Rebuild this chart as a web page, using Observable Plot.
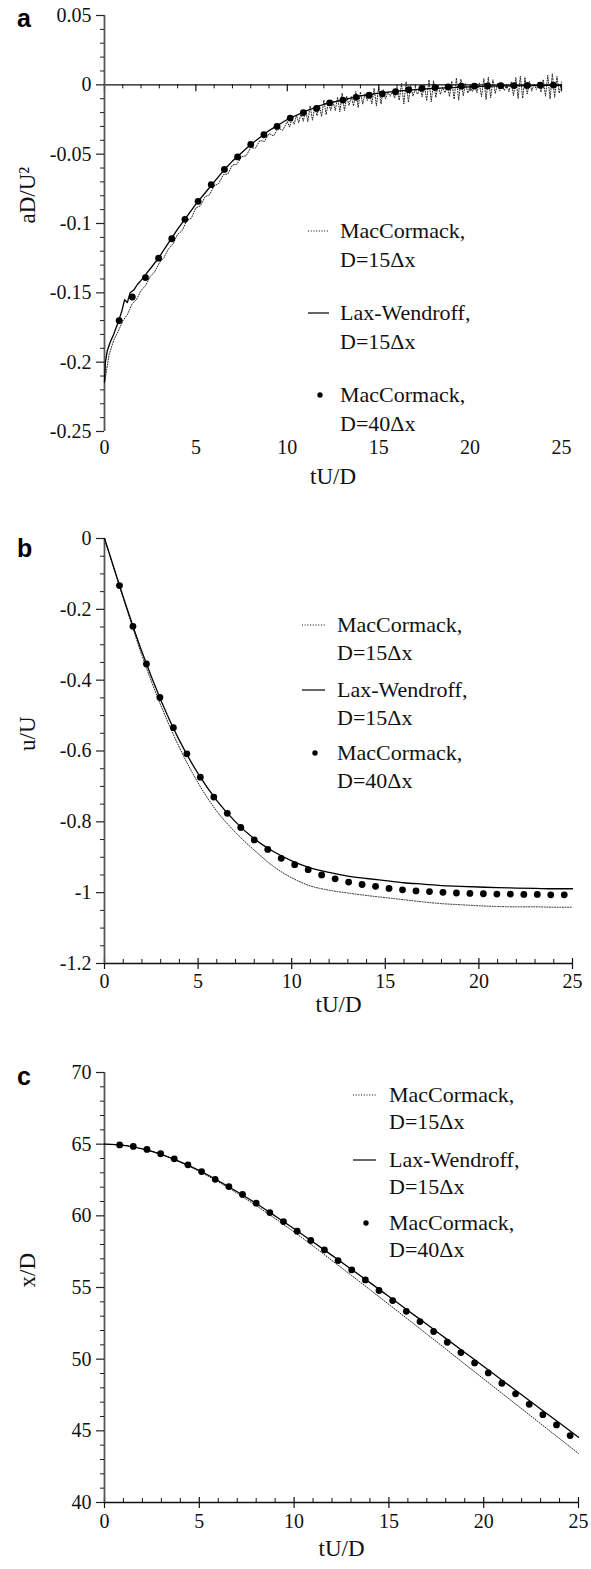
<!DOCTYPE html>
<html><head><meta charset="utf-8">
<script src="https://cdn.jsdelivr.net/npm/d3@7"></script>
<script src="https://cdn.jsdelivr.net/npm/@observablehq/plot@0.6"></script>
<style>
html,body{margin:0;padding:0;background:#fff;}
#root{position:relative;width:591px;height:1569px;overflow:hidden;background:#fff;}
.panel{position:absolute;left:0;}
#overlay{position:absolute;left:0;top:0;pointer-events:none;}
</style></head><body><div id="root"></div>
<script>
// ---------------- data ----------------
const xMajor = [0, 5, 10, 15, 20, 25];
const xLabels = ["0", "5", "10", "15", "20", "25"];

const yMajorA = [0.05, 0, -0.05, -0.1, -0.15, -0.2, -0.25];
const yLabelsA = ["0.05", "0", "-0.05", "-0.1", "-0.15", "-0.2", "-0.25"];
const yMajorB = [0, -0.2, -0.4, -0.6, -0.8, -1, -1.2];
const yLabelsB = ["0", "-0.2", "-0.4", "-0.6", "-0.8", "-1", "-1.2"];
const yMajorC = [70, 65, 60, 55, 50, 45, 40];
const yLabelsC = ["70", "65", "60", "55", "50", "45", "40"];

const legendText = [["MacCormack,", "D=15\u0394x"], ["Lax-Wendroff,", "D=15\u0394x"], ["MacCormack,", "D=40\u0394x"]];
const legendKinds = ["dotted", "solid", "dot"];

// MacCormack D=40dx sample times (common to all panels)
const tDots = [0.8, 1.52, 2.24, 2.96, 3.68, 4.4, 5.12, 5.84, 6.56, 7.28, 8.0, 8.72, 9.44, 10.16, 10.88, 11.6, 12.32,
  13.04, 13.76, 14.48, 15.2, 15.92, 16.64, 17.36, 18.08, 18.8, 19.52, 20.24, 20.96, 21.68, 22.4, 23.12, 23.84, 24.56];

// panel a : aD/U^2
const aDots = [-0.170, -0.153, -0.139, -0.125, -0.111, -0.097, -0.084, -0.072, -0.061, -0.052, -0.043, -0.036, -0.030,
  -0.024, -0.020, -0.017, -0.013, -0.011, -0.009, -0.0075, -0.0065, -0.005, -0.0035, -0.0025, -0.002, -0.0015, -0.001,
  -0.001, -0.0008, -0.0006, -0.0005, -0.0004, -0.0003, -0.0002];
const tA_LW = [0, 0.05, 0.15, 0.3, 0.5, 0.78, 0.95, 1.1, 1.25, 1.4, 1.6, 1.8, 2.0, 2.3, 2.6, 3.0, 3.5, 4.0, 4.5, 5.0,
  5.5, 6.0, 6.5, 7.0, 7.5, 8.0, 8.5, 9.0, 9.5, 10, 11, 12, 13, 14, 15, 16, 17, 18, 19, 20, 21, 22, 23, 24, 25];
const aLW = [-0.214, -0.200, -0.192, -0.186, -0.180, -0.170, -0.163, -0.155, -0.157, -0.150, -0.148, -0.144, -0.141,
  -0.136, -0.131, -0.124, -0.114, -0.104, -0.095, -0.086, -0.078, -0.070, -0.062, -0.055, -0.049, -0.043, -0.038,
  -0.033, -0.029, -0.025, -0.019, -0.014, -0.011, -0.008, -0.006, -0.0045, -0.0035, -0.0025, -0.002, -0.0015, -0.001,
  -0.0008, -0.0006, -0.0004, -0.0003];
const tA_MC = [0, 0.25, 0.5, 0.75, 1, 1.25, 1.5, 1.75, 2, 2.25, 2.5, 2.75, 3, 3.25, 3.5, 3.75, 4, 4.25, 4.5, 4.75,
  5, 5.25, 5.5, 5.75, 6, 6.25, 6.5, 6.75, 7, 7.25, 7.5, 7.75, 8, 8.25, 8.5, 8.75, 9, 9.25, 9.5, 9.75,
  10, 10.125, 10.25, 10.375, 10.5, 10.625, 10.75, 10.875, 11, 11.125, 11.25, 11.375, 11.5, 11.625, 11.75, 11.875,
  12, 12.125, 12.25, 12.375, 12.5, 12.625, 12.75, 12.875, 13, 13.125, 13.25, 13.375, 13.5, 13.625, 13.75, 13.875,
  14, 14.125, 14.25, 14.375, 14.5, 14.625, 14.75, 14.875, 15, 15.125, 15.25, 15.375, 15.5, 15.625, 15.75, 15.875,
  16, 16.125, 16.25, 16.375, 16.5, 16.625, 16.75, 16.875, 17, 17.125, 17.25, 17.375, 17.5, 17.625, 17.75, 17.875,
  18, 18.125, 18.25, 18.375, 18.5, 18.625, 18.75, 18.875, 19, 19.125, 19.25, 19.375, 19.5, 19.625, 19.75, 19.875,
  20, 20.125, 20.25, 20.375, 20.5, 20.625, 20.75, 20.875, 21, 21.125, 21.25, 21.375, 21.5, 21.625, 21.75, 21.875,
  22, 22.125, 22.25, 22.375, 22.5, 22.625, 22.75, 22.875, 23, 23.125, 23.25, 23.375, 23.5, 23.625, 23.75, 23.875,
  24, 24.125, 24.25, 24.375, 24.5, 24.625, 24.75, 24.875, 25];
const aMC = [-0.215, -0.1947, -0.1843, -0.1777, -0.1703, -0.1657, -0.1583, -0.1547, -0.1483, -0.1447,
  -0.1383, -0.1347, -0.1283, -0.1247, -0.1183, -0.1147, -0.1078, -0.1052, -0.0978, -0.0962,
  -0.0888, -0.0872, -0.0808, -0.0792, -0.0728, -0.0712, -0.0648, -0.0642, -0.0578, -0.0572,
  -0.0518, -0.0512, -0.0452, -0.0458, -0.0402, -0.0408, -0.0352, -0.0368, -0.0312, -0.0328,
  -0.0265, -0.0305, -0.0245, -0.0285, -0.0220, -0.0273, -0.0206, -0.0263,
  -0.0180, -0.0265, -0.0150, -0.0255, -0.0160, -0.0223, -0.0146, -0.0228,
  -0.0110, -0.0215, -0.0120, -0.0185, -0.0120, -0.0185, -0.0090, -0.0195,
  -0.0060, -0.0186, -0.0082, -0.0148, -0.0085, -0.0152, -0.0048, -0.0164,
  -0.0050, -0.0138, -0.0065, -0.0113, -0.0060, -0.0138, -0.0025, -0.0153,
  -0.0010, -0.0138, -0.0035, -0.0103, -0.0050, -0.0083, -0.0047, -0.0095,
  -0.0023, -0.0112, 0.0010, -0.0138, 0.0023, -0.0125, -0.0004, -0.0082,
  -0.0030, -0.0069, -0.0018, -0.0087, 0.0004, -0.0115, 0.0036, -0.0123,
  0.0028, -0.0091, 0.0000, -0.0069, -0.0018, -0.0057, -0.0006, -0.0085,
  0.0026, -0.0103, 0.0048, -0.0111, 0.0040, -0.0080, 0.0011, -0.0059,
  -0.0008, -0.0048, -0.0007, -0.0057, 0.0014, -0.0086, 0.0045, -0.0105,
  0.0056, -0.0094, 0.0037, -0.0063, 0.0008, -0.0042, -0.0001, -0.0041,
  0.0000, -0.0050, 0.0021, -0.0079, 0.0052, -0.0098, 0.0063, -0.0097,
  0.0054, -0.0066, 0.0025, -0.0045, 0.0006, -0.0034, 0.0017, -0.0053,
  0.0038, -0.0082, 0.0069, -0.0101, 0.0080, -0.0090, 0.0060, -0.0060,
  0.0020];

// panel b : u/U
const tB = [0, 1, 2, 3, 4, 5, 6, 7, 8, 9, 10, 11, 12, 13, 14, 15, 16, 17, 18, 19, 20, 21, 22, 23, 24, 25];
const uLW = [0, -0.165, -0.32, -0.455, -0.57, -0.664, -0.74, -0.80, -0.848, -0.883, -0.91, -0.93, -0.943, -0.953,
  -0.96, -0.966, -0.972, -0.976, -0.98, -0.982, -0.984, -0.986, -0.987, -0.988, -0.989, -0.989];
const uMC = [0, -0.168, -0.33, -0.47, -0.59, -0.69, -0.77, -0.83, -0.88, -0.925, -0.958, -0.981, -0.993, -1.001,
  -1.008, -1.014, -1.020, -1.026, -1.031, -1.034, -1.037, -1.039, -1.040, -1.040, -1.041, -1.041];
const uDots = [-0.133, -0.248, -0.354, -0.449, -0.534, -0.608, -0.674, -0.730, -0.776, -0.816, -0.851, -0.878, -0.903,
  -0.921, -0.935, -0.950, -0.961, -0.970, -0.977, -0.982, -0.988, -0.992, -0.995, -0.997, -0.999, -1.001, -1.002,
  -1.003, -1.004, -1.004, -1.005, -1.005, -1.006, -1.006];

// panel c : x/D
const tC = [0, 1, 2, 3, 4, 5, 6, 7, 8, 9, 10, 11, 12, 13, 14, 15, 16, 17, 18, 19, 20, 21, 22, 23, 24, 25];
const xLW = [65, 64.92, 64.67, 64.29, 63.77, 63.16, 62.45, 61.68, 60.86, 59.99, 59.10, 58.18, 57.24, 56.29, 55.34,
  54.37, 53.40, 52.43, 51.45, 50.47, 49.49, 48.50, 47.52, 46.53, 45.54, 44.55];
const xMC = [65, 64.92, 64.67, 64.27, 63.74, 63.10, 62.37, 61.57, 60.71, 59.81, 58.87, 57.90, 56.88, 55.87, 54.85,
  53.82, 52.79, 51.75, 50.71, 49.66, 48.62, 47.58, 46.54, 45.50, 44.46, 43.42];
const xDots = [64.95, 64.84, 64.63, 64.33, 63.98, 63.56, 63.09, 62.55, 62.04, 61.49, 60.88, 60.23, 59.60, 58.93,
  58.28, 57.63, 56.88, 56.23, 55.53, 54.79, 54.09, 53.34, 52.62, 51.93, 51.18, 50.46, 49.74, 49.04, 48.32, 47.58,
  46.85, 46.13, 45.41, 44.67];

// ---------------- drawing ----------------
const W = 591, ML = 104;
const FONT = "'Liberation Serif', 'Times New Roman', serif";
const root = document.getElementById("root");

function minorTicks(lo, hi, step, majors) {
  const out = [];
  const n = Math.round((hi - lo) / step);
  for (let i = 0; i <= n; i++) {
    const v = +(lo + i * step).toFixed(6);
    if (!majors.some(m => Math.abs(m - v) < step / 10)) out.push(v);
  }
  return out;
}

function makePanel(cfg) {
  const {top, height, mt, mb, mr, yDomain, yMajor, yLabels, yStep, xAxisAt, ticksDown,
    tickDy, labelDy, yLabel, mc, lw, dots, curve} = cfg;
  const pxX = (W - ML - mr) / 25;
  const pxY = (height - mt - mb) / (yDomain[1] - yDomain[0]);
  const yMinor = minorTicks(yDomain[0], yDomain[1], yStep, yMajor);
  const xMinor = minorTicks(0, 25, 1, xMajor);
  const xt = ticksDown
    ? {minor: [xAxisAt, xAxisAt - 4 / pxY], major: [xAxisAt, xAxisAt - 7 / pxY]}
    : {minor: [xAxisAt, xAxisAt + 4 / pxY], major: [xAxisAt - 6 / pxY, xAxisAt + 5 / pxY]};
  const plot = Plot.plot({
    width: W, height,
    marginLeft: ML, marginRight: mr, marginTop: mt, marginBottom: mb,
    x: {domain: [0, 25], axis: null},
    y: {domain: yDomain, axis: null},
    style: {fontFamily: FONT, fontSize: "20px", color: "#111", background: "transparent", overflow: "visible"},
    marks: [
      // x axis line and ticks
      Plot.ruleY([xAxisAt], {stroke: "#111", strokeWidth: 1.3}),
      Plot.ruleX(xMinor, {x: d => d, y1: xt.minor[0], y2: xt.minor[1], stroke: "#111", strokeWidth: 1}),
      Plot.ruleX(xMajor, {x: d => d, y1: xt.major[0], y2: xt.major[1], stroke: "#111", strokeWidth: 1.2}),
      // y axis line and ticks
      Plot.ruleX([0], {stroke: "#555", strokeWidth: 1.8}),
      Plot.ruleY(yMinor, {y: d => d, x1: 0, x2: -4 / pxX, stroke: "#222", strokeWidth: 1}),
      Plot.ruleY(yMajor, {y: d => d, x1: 0, x2: -8 / pxX, stroke: "#222", strokeWidth: 1.2}),
      // tick labels
      Plot.text(yMajor, {y: d => d, text: (d, i) => yLabels[i], frameAnchor: "left", dx: -13, textAnchor: "end", fontSize: 20}),
      Plot.text(xMajor, {x: d => d, text: (d, i) => xLabels[i], frameAnchor: "bottom", dy: tickDy, fontSize: 20}),
      // axis titles
      Plot.text(["tU/D"], {frameAnchor: "bottom", dy: labelDy, fontSize: 23}),
      Plot.text([yLabel], {frameAnchor: "left", dx: -77, rotate: -90, fontSize: 23}),
      // data
      Plot.line(mc.t, {x: mc.t, y: mc.v, stroke: "#222", strokeWidth: 1, strokeDasharray: "1,1.6", curve}),
      Plot.line(lw.t, {x: lw.t, y: lw.v, stroke: "#000", strokeWidth: 1.3, curve}),
      Plot.dot(dots.t, {x: dots.t, y: dots.v, r: 3.4, fill: "#000", stroke: "none"})
    ]
  });
  const div = document.createElement("div");
  div.className = "panel";
  div.style.top = top + "px";
  div.appendChild(plot);
  root.appendChild(div);
}

makePanel({top: 0, height: 490, mt: 15, mb: 59, mr: 30, yDomain: [-0.25, 0.05], yMajor: yMajorA, yLabels: yLabelsA,
  yStep: 0.01, xAxisAt: 0, ticksDown: true, tickDy: 22, labelDy: 52, yLabel: "aD/U\u00B2", curve: "linear",
  mc: {t: tA_MC, v: aMC}, lw: {t: tA_LW, v: aLW}, dots: {t: tDots, v: aDots}});
makePanel({top: 490, height: 530, mt: 48, mb: 57, mr: 19, yDomain: [-1.2, 0], yMajor: yMajorB, yLabels: yLabelsB,
  yStep: 0.05, xAxisAt: -1.2, ticksDown: false, tickDy: 24, labelDy: 48, yLabel: "u/U", curve: "monotone-x",
  mc: {t: tB, v: uMC}, lw: {t: tB, v: uLW}, dots: {t: tDots, v: uDots}});
makePanel({top: 1020, height: 549, mt: 52, mb: 67, mr: 13, yDomain: [40, 70], yMajor: yMajorC, yLabels: yLabelsC,
  yStep: 1, xAxisAt: 40, ticksDown: false, tickDy: 25, labelDy: 53, yLabel: "x/D", curve: "monotone-x",
  mc: {t: tC, v: xMC}, lw: {t: tC, v: xLW}, dots: {t: tDots, v: xDots}});

// ---------------- legends and panel letters ----------------
const svg = d3.select(root).append("svg").attr("id", "overlay").attr("width", W).attr("height", 1569);
const legends = [
  {sx1: 308, sx2: 329, bx: 320, tx: 340, ys: [231, 313, 395], gap: 29},
  {sx1: 302, sx2: 325, bx: 315, tx: 337, ys: [625, 690, 753], gap: 28},
  {sx1: 353, sx2: 376, bx: 366, tx: 389, ys: [1095, 1160, 1223], gap: 27}
];
legends.forEach(L => {
  legendKinds.forEach((kind, i) => {
    const y = L.ys[i];
    if (kind === "dot") {
      svg.append("circle").attr("cx", L.bx).attr("cy", y).attr("r", 2.7).attr("fill", "#000");
    } else {
      svg.append("line").attr("x1", L.sx1).attr("x2", L.sx2).attr("y1", y).attr("y2", y)
        .attr("stroke", "#000").attr("stroke-width", kind === "solid" ? 1.2 : 1)
        .attr("stroke-dasharray", kind === "dotted" ? "1,1.7" : null);
    }
    legendText[i].forEach((line, j) => {
      svg.append("text").attr("x", L.tx).attr("y", y + j * L.gap + 7.3)
        .attr("font-family", FONT).attr("font-size", 22).attr("fill", "#111").text(line);
    });
  });
});
const letters = [["a", 27], ["b", 557], ["c", 1085]];
letters.forEach(([s, y]) => {
  svg.append("text").attr("x", 17).attr("y", y).attr("font-family", "'Liberation Sans', Arial, sans-serif")
    .attr("font-weight", "bold").attr("font-size", 25).attr("fill", "#000").text(s);
});
</script>
</body></html>
